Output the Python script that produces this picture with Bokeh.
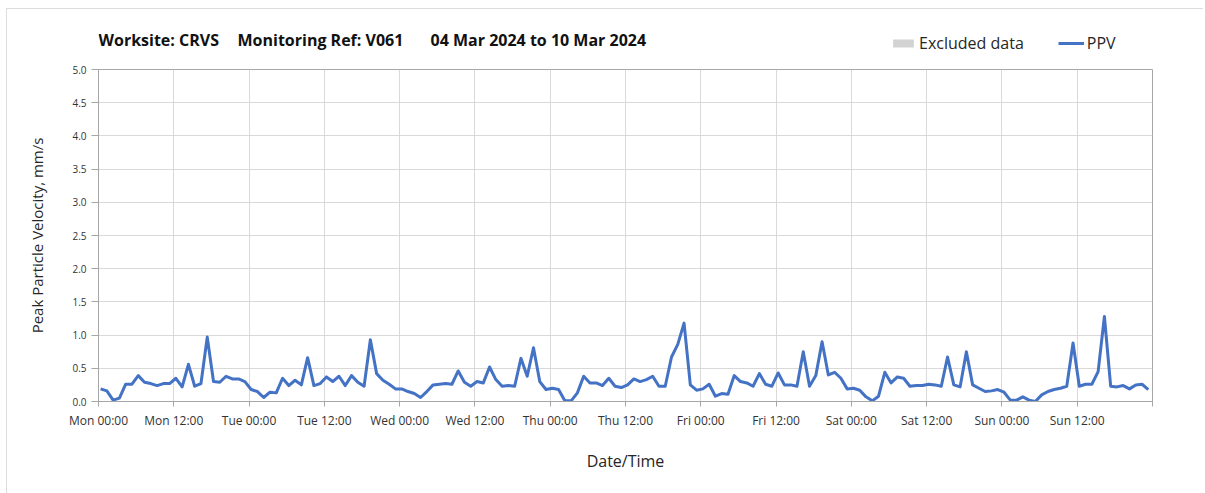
import numpy as np
import pandas as pd
from bokeh.plotting import figure
from bokeh.layouts import column
from bokeh.models import (Range1d, FixedTicker, NumeralTickFormatter, Legend,
                          LegendItem, ColumnDataSource, Label)
from bokeh.embed import file_html
from bokeh.resources import INLINE

# ---------------- data ----------------
title_parts = ["Worksite: CRVS", "Monitoring Ref: V061", "04 Mar 2024 to 10 Mar 2024"]
series_names = ["Excluded data", "PPV"]
x_label = "Date/Time"
y_label = "Peak Particle Velocity, mm/s"

first_reading = "2024-03-04 00:20"
ppv = [
    0.19, 0.16, 0.02, 0.05, 0.26, 0.26, 0.39, 0.29, 0.27, 0.24, 0.27, 0.27,
    0.35, 0.22, 0.56, 0.23, 0.27, 0.97, 0.30, 0.29, 0.38, 0.34, 0.34, 0.30,
    0.18, 0.15, 0.06, 0.14, 0.13, 0.35, 0.24, 0.32, 0.25, 0.66, 0.24, 0.27,
    0.37, 0.30, 0.38, 0.24, 0.39, 0.29, 0.23, 0.93, 0.42, 0.32, 0.26, 0.19,
    0.19, 0.15, 0.12, 0.06, 0.15, 0.25, 0.26, 0.27, 0.26, 0.46, 0.29, 0.23,
    0.30, 0.28, 0.52, 0.33, 0.23, 0.24, 0.23, 0.65, 0.38, 0.81, 0.30, 0.18,
    0.20, 0.18, 0.01, 0.01, 0.13, 0.38, 0.28, 0.28, 0.24, 0.35, 0.23, 0.21,
    0.25, 0.34, 0.30, 0.33, 0.38, 0.23, 0.23, 0.67, 0.86, 1.18, 0.25, 0.17,
    0.19, 0.26, 0.08, 0.12, 0.11, 0.39, 0.30, 0.28, 0.23, 0.42, 0.26, 0.23,
    0.43, 0.25, 0.25, 0.23, 0.75, 0.23, 0.39, 0.90, 0.40, 0.44, 0.35, 0.19,
    0.20, 0.17, 0.07, 0.01, 0.08, 0.44, 0.28, 0.37, 0.35, 0.23, 0.24, 0.24,
    0.26, 0.25, 0.23, 0.67, 0.25, 0.22, 0.75, 0.25, 0.20, 0.15, 0.16, 0.18,
    0.14, 0.02, 0.02, 0.07, 0.02, 0.00, 0.10, 0.15, 0.18, 0.20, 0.23, 0.88,
    0.23, 0.26, 0.26, 0.45, 1.28, 0.23, 0.22, 0.24, 0.19, 0.25, 0.26, 0.18,
]
times = pd.date_range(first_reading, periods=len(ppv), freq="h")

tick_times = pd.date_range("2024-03-04 00:00", "2024-03-11 00:00", freq="12h")
tick_labels = ["Mon 00:00", "Mon 12:00", "Tue 00:00", "Tue 12:00", "Wed 00:00",
               "Wed 12:00", "Thu 00:00", "Thu 12:00", "Fri 00:00", "Fri 12:00",
               "Sat 00:00", "Sat 12:00", "Sun 00:00", "Sun 12:00", ""]
y_ticks = [0.0, 0.5, 1.0, 1.5, 2.0, 2.5, 3.0, 3.5, 4.0, 4.5, 5.0]

excluded_start = []
excluded_end = []

# ---------------- styling ----------------
FONT = "Open Sans"
GRID = "#d9d9d9"
AXIS = "#a6a6a6"
TXT = "#262626"
LINE_COLOR = "#4472C4"
EXCL_COLOR = "#d3d3d3"
W = 1196

# ---------------- header (title + legend) ----------------
head = figure(width=W, height=50, x_range=Range1d(0, 1), y_range=Range1d(0, 1),
              x_axis_location=None, y_axis_location=None,
              output_backend="svg", toolbar_location=None,
              min_border=0)
head.outline_line_color = None
head.background_fill_color = "white"
head.border_fill_color = "white"
head.xgrid.visible = False
head.ygrid.visible = False

title_x = [0, 139, 332]
for txt, tx in zip(title_parts, title_x):
    head.add_layout(Label(x=tx, y=20, x_units="screen", y_units="screen", text=txt,
                          text_font=FONT, text_font_size="16px", text_font_style="bold",
                          text_color="#111111", text_baseline="middle", text_align="left"))

# legend keys only (a single empty NaN entry so that the key is drawn, no visible mark)
blank = np.array([np.nan])
key_excl = head.quad(left=blank, right=blank, top=blank, bottom=blank,
                     fill_color=EXCL_COLOR, line_color=None)
key_line = head.line(x=blank, y=blank, line_color=LINE_COLOR, line_width=3)
legend = Legend(items=[LegendItem(label=series_names[0], renderers=[key_excl]),
                       LegendItem(label=series_names[1], renderers=[key_line])],
                orientation="horizontal", location=(792, 5),
                padding=0, margin=0, spacing=34, label_standoff=3,
                glyph_width=26, glyph_height=10, label_height=20,
                label_text_font=FONT, label_text_font_size="16px",
                label_text_color=TXT, border_line_alpha=0, background_fill_alpha=0)
head.add_layout(legend, "center")

# ---------------- main chart ----------------
tick_ms = [float(t.value // 10**6) for t in tick_times]

p = figure(width=W, height=434, x_axis_type="datetime",
           x_range=Range1d(start=tick_times[0], end=tick_times[-1]),
           y_range=Range1d(start=y_ticks[0], end=y_ticks[-1]),
           output_backend="svg", toolbar_location=None,
           min_border_left=91, min_border_right=51,
           min_border_top=10, min_border_bottom=92)
p.background_fill_color = "white"
p.border_fill_color = "white"
p.outline_line_color = AXIS
p.outline_line_width = 1

xa = p.xaxis[0]
xa.ticker = FixedTicker(ticks=tick_ms)
xa.major_label_overrides = {ms: lab for ms, lab in zip(tick_ms, tick_labels)}
xa.axis_line_color = AXIS
xa.major_tick_line_color = AXIS
xa.major_tick_out = 5
xa.major_tick_in = 0
xa.minor_tick_line_color = None
xa.major_label_standoff = 5
xa.major_label_text_font = FONT
xa.major_label_text_font_size = "12px"
xa.major_label_text_color = "#333333"
xa.axis_label = x_label
xa.axis_label_standoff = 18
xa.axis_label_text_font = FONT
xa.axis_label_text_font_size = "16px"
xa.axis_label_text_font_style = "normal"
xa.axis_label_text_color = TXT

ya = p.yaxis[0]
ya.ticker = FixedTicker(ticks=y_ticks)
ya.formatter = NumeralTickFormatter(format="0.0")
ya.axis_line_color = AXIS
ya.major_tick_line_color = AXIS
ya.major_tick_out = 7
ya.major_tick_in = 0
ya.minor_tick_line_color = None
ya.major_label_standoff = 5
ya.major_label_text_font = FONT
ya.major_label_text_font_size = "10px"
ya.major_label_text_color = "#333333"
ya.axis_label = y_label
ya.axis_label_standoff = 22
ya.axis_label_text_font = FONT
ya.axis_label_text_font_size = "15px"
ya.axis_label_text_font_style = "normal"
ya.axis_label_text_color = TXT

p.xgrid.grid_line_color = GRID
p.ygrid.grid_line_color = GRID
p.xgrid.ticker = FixedTicker(ticks=tick_ms)
p.ygrid.ticker = FixedTicker(ticks=y_ticks)

excl_src = ColumnDataSource(dict(left=excluded_start, right=excluded_end,
                                 top=[y_ticks[-1]] * len(excluded_start),
                                 bottom=[y_ticks[0]] * len(excluded_start)))
p.quad(left="left", right="right", top="top", bottom="bottom", source=excl_src,
       fill_color=EXCL_COLOR, line_color=None)
p.line(times, ppv, line_color=LINE_COLOR, line_width=3, line_join="round")

layout = column(head, p, spacing=0)
layout.margin = (8, 0, 0, 6)
layout.styles = {"border-top": "1px solid #dcdcdc", "border-left": "1px solid #dcdcdc"}

open("out.html", "w").write(file_html(layout, INLINE))
